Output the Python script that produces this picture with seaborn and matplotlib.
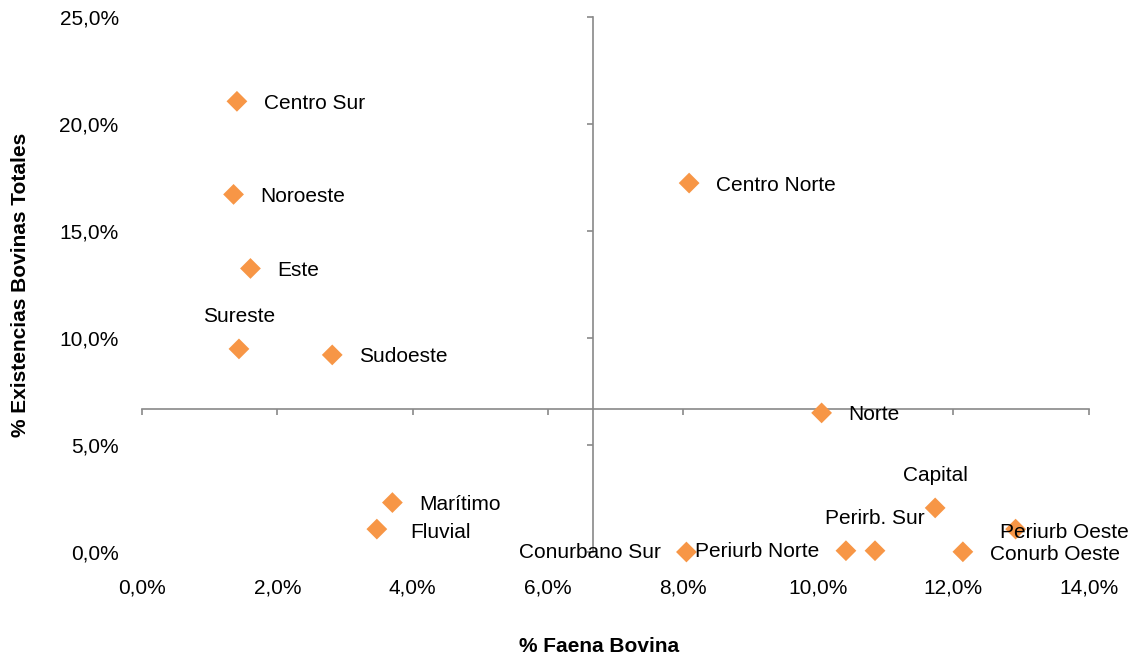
import matplotlib
matplotlib.use("Agg")
import matplotlib.pyplot as plt
import seaborn as sns
import pandas as pd

# ---- data ----
regions = ["Centro Sur", "Noroeste", "Este", "Sureste", "Sudoeste", "Centro Norte",
           "Norte", "Marítimo", "Fluvial", "Conurbano Sur", "Periurb Norte",
           "Perirb. Sur", "Capital", "Conurb Oeste", "Periurb Oeste"]
faena = [1.40, 1.35, 1.60, 1.43, 2.81, 8.09, 10.05, 3.70, 3.47, 8.05, 10.41,
         10.84, 11.73, 12.14, 12.92]
existencias = [21.06, 16.71, 13.25, 9.49, 9.21, 17.24, 6.50, 2.31, 1.07, 0.00,
               0.06, 0.06, 2.06, 0.01, 1.07]
x_ticks = [0, 2, 4, 6, 8, 10, 12, 14]
x_tick_labels = ["0,0%", "2,0%", "4,0%", "6,0%", "8,0%", "10,0%", "12,0%", "14,0%"]
y_ticks = [0, 5, 10, 15, 20, 25]
y_tick_labels = ["0,0%", "5,0%", "10,0%", "15,0%", "20,0%", "25,0%"]
x_title = "% Faena Bovina"
y_title = "% Existencias Bovinas Totales"

df = pd.DataFrame({"region": regions, "faena": faena, "existencias": existencias})
cross_x = df["faena"].mean()
cross_y = df["existencias"].mean()

# label placement (pixel offsets, alignment)
label_pos = {
    "Centro Sur": (27, -2, "left"),
    "Noroeste": (27, -2, "left"),
    "Este": (27, -2, "left"),
    "Sureste": (0, 32, "center"),
    "Sudoeste": (27, -2, "left"),
    "Centro Norte": (27, -2, "left"),
    "Norte": (27, -2, "left"),
    "Marítimo": (27, -2, "left"),
    "Fluvial": (33, -3, "left"),
    "Conurbano Sur": (-26, -1, "right"),
    "Periurb Norte": (-27, -1, "right"),
    "Perirb. Sur": (0, 32, "center"),
    "Capital": (0, 32, "center"),
    "Conurb Oeste": (27, -3, "left"),
    "Periurb Oeste": (-16, -3, "left"),
}

sns.set_style("white")
plt.rcParams["font.family"] = ["Liberation Sans", "DejaVu Sans"]
FS = 15

W, H = 1137, 657
fig = plt.figure(figsize=(W / 100, H / 100), dpi=100)
pos = [142.3 / W, 105 / H, 946.3 / W, 535 / H]

axis_color = "#898989"

# crossing axes (underneath)
ax_cross = fig.add_axes(pos)
ax_cross.set_xlim(0, 14)
ax_cross.set_ylim(0, 25)
ax_cross.patch.set_visible(False)
for s in ["top", "right"]:
    ax_cross.spines[s].set_visible(False)
ax_cross.spines["left"].set_position(("data", cross_x))
ax_cross.spines["bottom"].set_position(("data", cross_y))
for s in ["left", "bottom"]:
    ax_cross.spines[s].set_color(axis_color)
    ax_cross.spines[s].set_linewidth(1.2)
ax_cross.set_xticks(x_ticks)
ax_cross.set_yticks(y_ticks)
ax_cross.tick_params(axis="both", which="major", direction="out", length=4.5,
                     width=1.2, color=axis_color, bottom=True, left=True,
                     top=False, right=False, labelleft=False, labelbottom=False)
ax_cross.grid(False)

# main axes (on top)
ax = fig.add_axes(pos)
ax.set_facecolor("none")
sns.scatterplot(data=df, x="faena", y="existencias", marker="D", s=112,
                color="#F79646", edgecolor="none", linewidth=0, ax=ax, zorder=5,
                clip_on=False)
ax.set_xlim(0, 14)
ax.set_ylim(0, 25)
for s in ax.spines.values():
    s.set_visible(False)
ax.grid(False)
ax.set_xticks(x_ticks)
ax.set_xticklabels(x_tick_labels)
ax.set_yticks(y_ticks)
ax.set_yticklabels(y_tick_labels)
ax.tick_params(axis="x", length=0, pad=19, labelsize=FS, labelcolor="black")
ax.tick_params(axis="y", length=0, pad=17, labelsize=FS, labelcolor="black")

for r, xv, yv in zip(regions, faena, existencias):
    dx, dy, ha = label_pos[r]
    ax.annotate(r, (xv, yv), xytext=(dx, dy), textcoords="offset pixels",
                ha=ha, va="center", fontsize=FS, color="black", zorder=6,
                annotation_clip=False)

ax.set_xlabel(x_title, fontsize=FS, fontweight="bold", color="black")
ax.xaxis.label.set_va("center")
ax.xaxis.set_label_coords((599 - 142.3) / 946.3, (H - 646.7 - 105) / 535)
ax.set_ylabel(y_title, fontsize=FS, fontweight="bold", color="black")
ax.yaxis.label.set_va("center")
ax.yaxis.set_label_coords((20 - 142.3) / 946.3, 0.5)

fig.savefig("out.png", dpi=100)
